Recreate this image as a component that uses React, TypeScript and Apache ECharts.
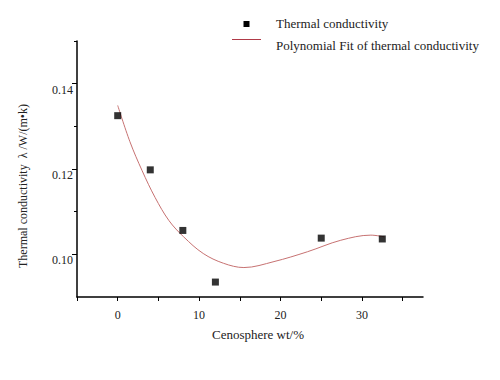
import React, { useEffect, useRef } from "react";
import * as echarts from "echarts";

const measuredX = [0, 4, 8, 12, 25, 32.5];
const measuredY = [0.1325, 0.1198, 0.1056, 0.0935, 0.1038, 0.1036];

const fitX = [0, 1.5, 3.0, 4.6, 6.3, 8.1, 10.5, 13.0, 15.5, 19.2, 23.3, 27.4, 31.1, 32.75];
const fitY = [0.1349, 0.1264, 0.1196, 0.1133, 0.1079, 0.1041, 0.1002, 0.0979, 0.0969, 0.0983, 0.1006, 0.1033, 0.1045, 0.1041];

const xTicks = [-5, 0, 5, 10, 15, 20, 25, 30, 35];
const xLabels = [0, 10, 20, 30];
const yLabels = [0.1, 0.12, 0.14];
const yMinorTicks = [0.11, 0.13, 0.15];

const seriesNames = ["Thermal conductivity", "Polynomial Fit of thermal conductivity"];
const xName = "Cenosphere wt/%";
const yName = "Thermal conductivity  λ /W/(m•k)";

const FONT = "'Liberation Serif', 'Times New Roman', serif";

export default function App() {
  const ref = useRef<HTMLDivElement>(null);
  useEffect(() => {
    const chart = echarts.init(ref.current!, undefined, { renderer: "svg" });
    const axisLine = { show: true, onZero: false, lineStyle: { color: "#000", width: 1.5 } };
    chart.setOption({
      animation: false,
      backgroundColor: "#fff",
      grid: { left: 77, top: 41, right: 77, bottom: 83 },
      xAxis: {
        type: "value",
        min: -5,
        max: 37.5,
        axisLine,
        axisTick: { show: true, customValues: xTicks, length: 4, lineStyle: { color: "#000", width: 1 } },
        axisLabel: {
          customValues: xLabels,
          margin: 12,
          fontFamily: FONT,
          fontSize: 12,
          color: "#222",
        },
        splitLine: { show: false },
      },
      yAxis: [
        {
          type: "value",
          min: 0.09,
          max: 0.15,
          axisLine,
          axisTick: { show: true, customValues: yLabels, length: 5, lineStyle: { color: "#000", width: 1 } },
          axisLabel: {
            customValues: yLabels,
            margin: 4,
            verticalAlign: "top",
            fontFamily: FONT,
            fontSize: 12,
            color: "#222",
            formatter: (v: number) => v.toFixed(2),
          },
          splitLine: { show: false },
        },
        {
          type: "value",
          min: 0.09,
          max: 0.15,
          position: "left",
          axisLine: { show: false, onZero: false },
          axisTick: { show: true, customValues: yMinorTicks, length: 3, lineStyle: { color: "#000", width: 1 } },
          axisLabel: { show: false },
          splitLine: { show: false },
        },
      ],
      series: [
        {
          name: seriesNames[0],
          type: "scatter",
          symbol: "rect",
          symbolSize: 7,
          itemStyle: { color: "#000" },
          data: measuredX.map((x, i) => [x, measuredY[i]]),
          z: 3,
        },
        {
          name: seriesNames[1],
          type: "line",
          smooth: 0.35,
          symbol: "none",
          lineStyle: { color: "#c77272", width: 1 },
          data: fitX.map((x, i) => [x, fitY[i]]),
          z: 2,
        },
      ],
      graphic: [
        { type: "rect", shape: { x: 243.5, y: 21, width: 6, height: 6 }, style: { fill: "#000" } },
        {
          type: "text",
          x: 276,
          y: 23,
          style: { text: seriesNames[0], font: `13px ${FONT}`, fill: "#222", verticalAlign: "middle" },
        },
        { type: "line", shape: { x1: 232, y1: 39.5, x2: 261, y2: 39.5 }, style: { stroke: "#b03a48", lineWidth: 1 } },
        {
          type: "text",
          x: 276,
          y: 45,
          style: { text: seriesNames[1], font: `13px ${FONT}`, fill: "#222", verticalAlign: "middle" },
        },
        {
          type: "text",
          x: 258,
          y: 334,
          style: { text: xName, font: `13px ${FONT}`, fill: "#222", align: "center", verticalAlign: "middle" },
        },
        {
          type: "text",
          x: 23,
          y: 186,
          rotation: Math.PI / 2,
          style: { text: yName, font: `12px ${FONT}`, fill: "#222", align: "center", verticalAlign: "middle" },
        },
      ],
    });
    return () => chart.dispose();
  }, []);
  return <div ref={ref} style={{ position: "fixed", left: 0, top: 0, width: 500, height: 380 }} />;
}
